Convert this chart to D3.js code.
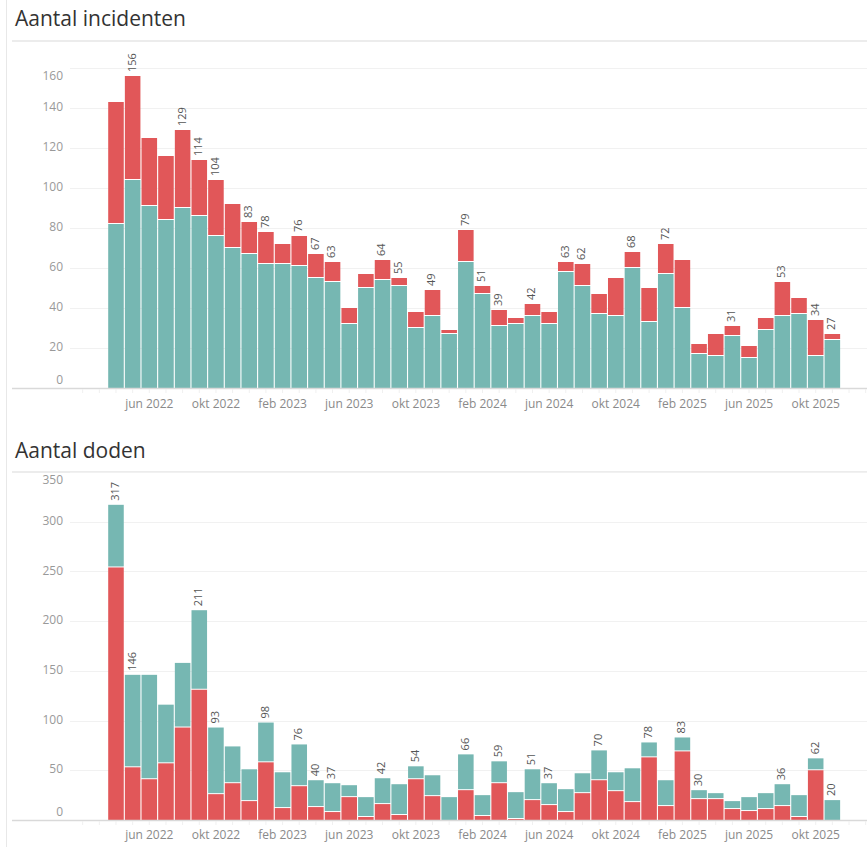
<!DOCTYPE html>
<html>
<head>
<meta charset="utf-8">
<script src="https://cdn.jsdelivr.net/npm/d3@7"></script>
<style>
  body { margin: 0; background: #fff; font-family: "Open Sans", sans-serif; }
  .title { font-size: 21px; fill: #333; }
  .tick-y { font-size: 12px; fill: #999; }
  .tick-x { font-size: 12px; fill: #8a8a8a; }
  .val { font-size: 11px; fill: #555; }
</style>
</head>
<body>
<div id="chart"></div>
<script>
// months apr 2022 .. nov 2025
var months = ["apr 2022","mei 2022","jun 2022","jul 2022","aug 2022","sep 2022","okt 2022","nov 2022","dec 2022",
  "jan 2023","feb 2023","mrt 2023","apr 2023","mei 2023","jun 2023","jul 2023","aug 2023","sep 2023","okt 2023","nov 2023","dec 2023",
  "jan 2024","feb 2024","mrt 2024","apr 2024","mei 2024","jun 2024","jul 2024","aug 2024","sep 2024","okt 2024","nov 2024","dec 2024",
  "jan 2025","feb 2025","mrt 2025","apr 2025","mei 2025","jun 2025","jul 2025","aug 2025","sep 2025","okt 2025","nov 2025"];

var xTickLabels = ["jun 2022","okt 2022","feb 2023","jun 2023","okt 2023","feb 2024","jun 2024","okt 2024","feb 2025","jun 2025","okt 2025"];

// Aantal incidenten: teal (bottom) + red (top)
var incTeal = [82,104,91,84,90,86,76,70,67,62,62,61,55,53,32,50,54,51,30,36,27,63,47,31,32,36,32,58,51,37,36,60,33,57,40,17,16,26,15,29,36,37,16,24];
var incRed  = [61,52,34,32,39,28,28,22,16,16,10,15,12,10,8,7,10,4,8,13,2,16,4,8,3,6,6,5,11,10,19,8,17,15,24,5,11,5,6,6,17,8,18,3];
var incLabelled = [1,4,5,6,8,9,11,12,13,16,17,19,21,22,23,25,27,28,31,33,37,40,42,43];
var incTicks = [0,20,40,60,80,100,120,140,160];

// Aantal doden: red (bottom) + teal (top)
var dodRed  = [254,53,41,57,93,131,26,37,19,58,12,34,13,8,23,3,16,5,41,24,0,30,4,37,1,20,15,8,27,40,29,18,63,14,69,21,21,11,9,11,14,3,50,0];
var dodTeal = [63,93,105,59,65,80,67,37,32,40,36,42,27,29,12,20,26,31,13,21,23,36,21,22,27,31,22,23,20,30,19,34,15,26,14,9,6,8,14,16,22,22,12,20];
var dodLabelled = [0,1,5,6,9,11,12,13,16,18,21,23,25,26,29,32,34,35,40,42,43];
var dodTicks = [0,50,100,150,200,250,300,350];

var TEAL = "#76b7b2", RED = "#e15759";

var width = 867, height = 847;
var svg = d3.select("#chart").append("svg")
  .attr("width", width)
  .attr("height", height);

// left border of the dashboard
svg.append("line")
  .attr("x1", 6.5).attr("x2", 6.5).attr("y1", 0).attr("y2", height)
  .attr("stroke", "#e8e8e8");

var x = d3.scaleLinear()
  .domain([-2.76, 45.08])
  .range([70, 867]);
var step = x(1) - x(0);
var bw = step - 1.1;

function panel(opts) {
  var g = svg.append("g");
  var y = d3.scaleLinear().domain([0, opts.yMax]).range([opts.base, opts.top]);

  g.append("text").attr("class", "title")
    .attr("x", 15).attr("y", opts.titleY)
    .text(opts.title);

  g.append("line")
    .attr("x1", 12).attr("x2", width)
    .attr("y1", opts.divider).attr("y2", opts.divider)
    .attr("stroke", "#e6e6e6").attr("stroke-width", 1.5);

  // gridlines
  g.selectAll(".grid").data(opts.ticks.filter(function(d){ return d > 0; }))
    .join("line")
    .attr("x1", 70).attr("x2", width)
    .attr("y1", function(d){ return Math.round(y(d)) + 0.5; })
    .attr("y2", function(d){ return Math.round(y(d)) + 0.5; })
    .attr("stroke", "#f1f1f1");

  g.selectAll(".tick-y").data(opts.ticks)
    .join("text")
    .attr("class", "tick-y")
    .attr("x", 63)
    .attr("y", function(d){
      if (d === 0) return y(d) - 7;
      if (d === opts.yMax) return y(d) + 9;
      return y(d);
    })
    .attr("text-anchor", "end")
    .attr("dominant-baseline", "middle")
    .text(function(d){ return d; });

  var data = months.map(function(m, i){
    return {i: i, a: opts.lower[i], b: opts.upper[i], t: opts.lower[i] + opts.upper[i]};
  });

  var bars = g.append("g").selectAll("g").data(data).join("g");

  bars.append("rect")
    .attr("x", function(d){ return x(d.i) - bw / 2; })
    .attr("width", bw)
    .attr("y", function(d){ return y(d.a); })
    .attr("height", function(d){ return y(0) - y(d.a); })
    .attr("fill", opts.lowerColor);

  bars.filter(function(d){ return d.b > 0; })
    .append("rect")
    .attr("x", function(d){ return x(d.i) - bw / 2; })
    .attr("width", bw)
    .attr("y", function(d){ return y(d.t); })
    .attr("height", function(d){ return Math.max(0, y(d.a) - y(d.t) - (d.a > 0 ? 1 : 0)); })
    .attr("fill", opts.upperColor);

  // axis line
  g.append("line")
    .attr("x1", 12).attr("x2", width)
    .attr("y1", Math.round(y(0)) + 0.5).attr("y2", Math.round(y(0)) + 0.5)
    .attr("stroke", "#d9d9d9").attr("stroke-width", 1.5);

  // small month ticks
  g.selectAll(".mt").data(d3.range(-2, 46))
    .join("line")
    .attr("x1", function(d){ return x(d); })
    .attr("x2", function(d){ return x(d); })
    .attr("y1", y(0) + 1).attr("y2", y(0) + 5)
    .attr("stroke", "#f0f0f0");

  g.selectAll(".tick-x").data(xTickLabels)
    .join("text")
    .attr("class", "tick-x")
    .attr("x", function(d){ return x(months.indexOf(d)); })
    .attr("y", opts.xLabelY)
    .attr("text-anchor", "middle")
    .text(function(d){ return d; });

  g.selectAll(".val").data(opts.labelled)
    .join("text")
    .attr("class", "val")
    .attr("transform", function(i){
      return "translate(" + x(i) + "," + (y(data[i].t) - 4) + ") rotate(-90)";
    })
    .attr("dominant-baseline", "middle")
    .text(function(i){ return data[i].t; });
}

panel({
  title: "Aantal incidenten", titleY: 26, divider: 41,
  base: 388, top: 68, yMax: 160, ticks: incTicks,
  lower: incTeal, upper: incRed, lowerColor: TEAL, upperColor: RED,
  labelled: incLabelled, xLabelY: 408
});

panel({
  title: "Aantal doden", titleY: 458, divider: 472,
  base: 820, top: 472, yMax: 350, ticks: dodTicks,
  lower: dodRed, upper: dodTeal, lowerColor: RED, upperColor: TEAL,
  labelled: dodLabelled, xLabelY: 839
});
</script>
</body>
</html>
